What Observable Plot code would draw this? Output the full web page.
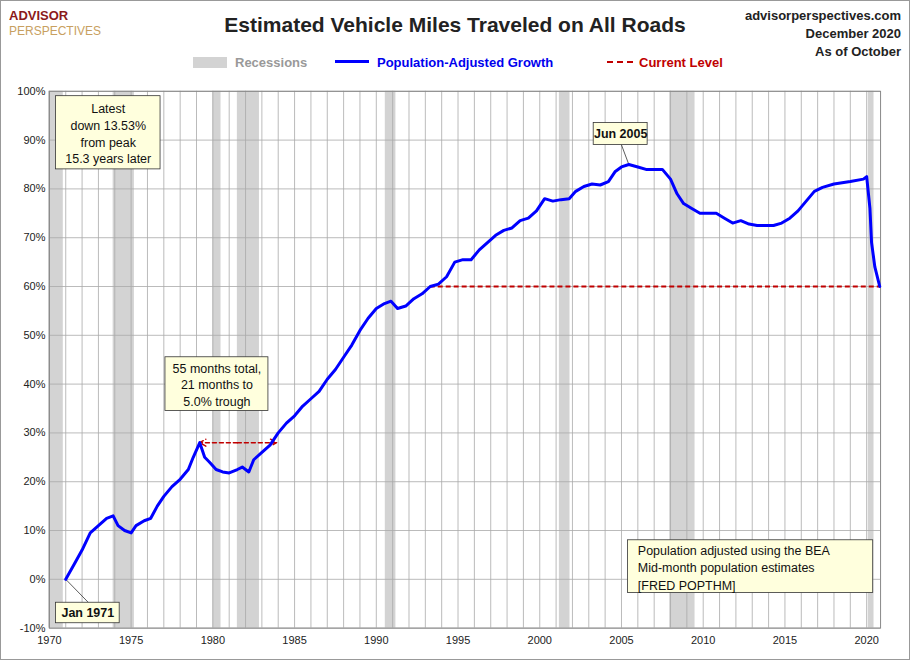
<!DOCTYPE html>
<html><head><meta charset="utf-8">
<script src="https://cdn.jsdelivr.net/npm/d3@7"></script>
<script src="https://cdn.jsdelivr.net/npm/@observablehq/plot@0.6"></script>
<style>
body{margin:0;font-family:Arial,"Liberation Sans",sans-serif;background:#fff}
#wrap{position:relative;width:908px;height:658px;border:1px solid #999}
.t{position:absolute;white-space:nowrap}
</style></head><body>
<div id="wrap">
<div class="t" style="left:0;width:908px;top:12px;text-align:center;font-size:21px;font-weight:bold;color:#222">Estimated Vehicle Miles Traveled on All Roads</div>
<div class="t" style="right:8px;top:6px;text-align:right;font-size:13px;font-weight:bold;line-height:18px;color:#222">advisorperspectives.com<br>December 2020<br>As of October</div>
<div class="t" style="left:8px;top:7px;font-size:13px;font-weight:bold;line-height:15px;color:#8b1a1a">ADVISOR<br><span style="color:#c8a060;font-weight:normal;font-size:12px">PERSPECTIVES</span></div>
<div class="t" style="left:192px;top:54px;font-size:13px;font-weight:bold;color:#999"><span style="display:inline-block;width:34px;height:11px;background:#d3d3d3;vertical-align:-1px;margin-right:8px"></span>Recessions</div>
<div class="t" style="left:334px;top:54px;font-size:13px;font-weight:bold;color:#0000ee"><span style="display:inline-block;width:34px;height:3px;background:#0000ff;vertical-align:4px;margin-right:8px"></span>Population-Adjusted Growth</div>
<div class="t" style="left:606px;top:54px;font-size:13px;font-weight:bold;color:#c00000"><span style="display:inline-block;width:26px;border-top:2px dashed #c00000;vertical-align:4px;margin-right:6px"></span>Current Level</div>
<div id="chart" style="position:absolute;left:0;top:0"></div>
</div>
<script>
const recStart=[1969.95,1973.9,1980.0,1981.5,1990.55,2001.2,2007.95,2020.1];
const recEnd  =[1970.85,1975.2,1980.5,1982.85,1991.2,2001.85,2009.5,2020.45];
const years=[1971.0,1971.5,1972.0,1972.5,1973.0,1973.5,1973.9,1974.2,1974.6,1975.0,1975.3,1975.8,1976.2,1976.6,1977.0,1977.5,1978.0,1978.5,1978.8,1979.2,1979.5,1979.8,1980.2,1980.6,1981.0,1981.5,1981.8,1982.2,1982.5,1983.0,1983.5,1984.0,1984.5,1985.0,1985.5,1986.0,1986.5,1987.0,1987.5,1988.0,1988.5,1989.0,1989.5,1990.0,1990.5,1990.9,1991.3,1991.8,1992.3,1992.8,1993.3,1993.8,1994.3,1994.8,1995.3,1995.8,1996.3,1996.8,1997.3,1997.8,1998.3,1998.8,1999.3,1999.8,2000.3,2000.8,2001.3,2001.8,2002.2,2002.7,2003.2,2003.7,2004.2,2004.6,2005.0,2005.45,2006.0,2006.5,2007.0,2007.5,2008.0,2008.4,2008.8,2009.3,2009.8,2010.3,2010.8,2011.3,2011.8,2012.3,2012.8,2013.3,2013.8,2014.3,2014.8,2015.3,2015.8,2016.3,2016.8,2017.3,2018.0,2019.0,2019.8,2020.0,2020.2,2020.3,2020.5,2020.8];
const growth=[0,3,6,9.5,11,12.5,13,11,10,9.5,11,12,12.5,15,17,19,20.5,22.5,25,28,25,24,22.5,22,21.8,22.5,23,22,24.5,26,27.5,30,32,33.5,35.5,37,38.5,41,43,45.5,48,51,53.5,55.5,56.5,57,55.5,56,57.5,58.5,60,60.5,62,65,65.5,65.5,67.5,69,70.5,71.5,72,73.5,74,75.5,78,77.5,77.8,78,79.5,80.5,81,80.8,81.5,83.5,84.5,85,84.5,84,84,84,82,79,77,76,75,75,75,74,73,73.5,72.8,72.5,72.5,72.5,73,74,75.5,77.5,79.5,80.3,81,81.5,82,82.5,76,69,64,60];
const currentLevel=60.0;
const yTicks=d3.range(-10,101,10);
const xTicks=d3.range(1970,2021,5);
const data=years.map((y,i)=>({x:y,v:growth[i]}));
const rec=recStart.map((s,i)=>({x1:s,x2:recEnd[i]}));
const boxes=[
 {x1:1970.4,x2:1976.8,y1:84,y2:99,tx:1973.6,ty:91.5,t:"Latest\ndown 13.53%\nfrom peak\n15.3 years later"},
 {x1:1977.1,x2:1983.4,y1:34.5,y2:45.5,tx:1980.25,ty:40,t:"55 months total,\n21 months to\n5.0% trough"},
 {x1:1970.4,x2:1974.3,y1:-9,y2:-4.8,tx:1972.35,ty:-6.9,t:"Jan 1971"},
 {x1:2003.3,x2:2006.6,y1:89,y2:93.5,tx:2004.95,ty:91.2,t:"Jun 2005"},
 {x1:2005.4,x2:2020.4,y1:-2.8,y2:8,tx:2006.0,ty:2.6,t:"Population adjusted using the BEA\nMid-month population estimates\n[FRED POPTHM]"}
];
const chart=Plot.plot({
 width:910,height:660,marginTop:90,marginLeft:48,marginRight:29,marginBottom:32,
 style:{fontFamily:"Arial, Liberation Sans, sans-serif",fontSize:"11px",color:"#222",background:"transparent"},
 x:{domain:[1970,2020.85],ticks:xTicks,tickFormat:d=>String(d),label:null,tickSize:0,tickPadding:8},
 y:{domain:[-10,100],ticks:yTicks,tickFormat:d=>d+"%",label:null,tickSize:0,tickPadding:4},
 marks:[
  Plot.rect(rec,{x1:"x1",x2:"x2",y1:-10,y2:100,fill:"#d3d3d3"}),
  Plot.ruleX(d3.range(1970,2021),{stroke:"#aaa",strokeWidth:0.8}),
  Plot.ruleY(yTicks,{stroke:"#aaa",strokeWidth:0.8}),
  Plot.frame({stroke:"#888"}),
  Plot.ruleY([currentLevel],{x1:1993.3,x2:2020.85,stroke:"#c00000",strokeWidth:1.8,strokeDasharray:"5,3"}),
  Plot.arrow([{x1:1981.5,x2:1979.2},{x1:1981.5,x2:1983.9}],{x1:"x1",x2:"x2",y1:28,y2:28,stroke:"#c00000",strokeWidth:1.5,strokeDasharray:"4,3",headLength:7,bend:0}),
  Plot.link([{x1:1972.4,y1:-4.8,x2:1971,y2:0},{x1:2005,y1:89,x2:2005.45,y2:85}],{x1:"x1",y1:"y1",x2:"x2",y2:"y2",stroke:"#333",strokeWidth:0.8}),
  Plot.line(data,{x:"x",y:"v",stroke:"#0000ff",strokeWidth:3,curve:"linear",strokeLinejoin:"round"}),
  Plot.rect(boxes,{x1:"x1",x2:"x2",y1:"y1",y2:"y2",fill:"#ffffdd",stroke:"#333",strokeWidth:0.8}),
  Plot.text(boxes.slice(0,2),{x:"tx",y:"ty",text:"t",fontSize:12.5,lineHeight:1.35,fill:"#111"}),
  Plot.text(boxes.slice(2,4),{x:"tx",y:"ty",text:"t",fontSize:12.5,fontWeight:"bold",fill:"#111"}),
  Plot.text(boxes.slice(4),{x:"tx",y:"ty",text:"t",fontSize:12.5,lineHeight:1.4,textAnchor:"start",fill:"#111"})
 ]
});
document.getElementById("chart").appendChild(chart);
</script></body></html>
